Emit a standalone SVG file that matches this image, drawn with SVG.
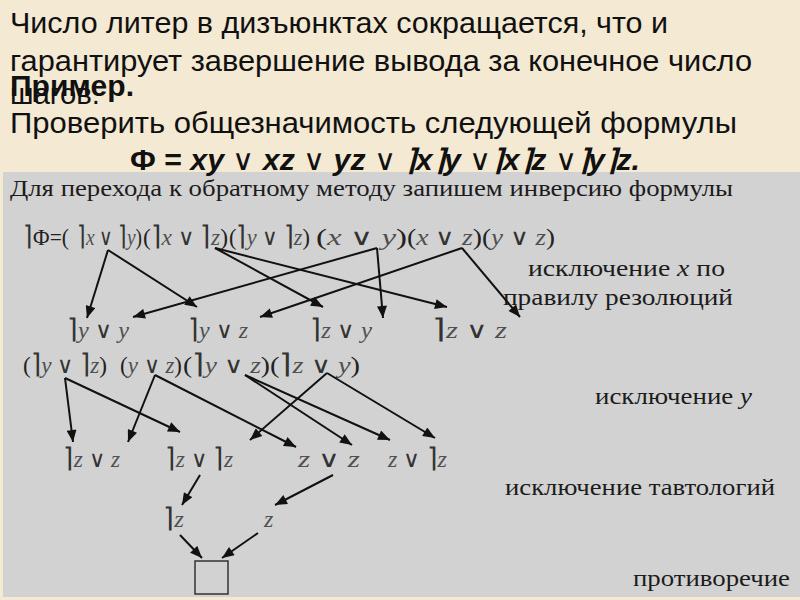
<svg xmlns="http://www.w3.org/2000/svg" width="800" height="600" viewBox="0 0 800 600">
<defs>
<style>
.t{font-family:"Liberation Sans","Arial",sans-serif;font-size:29px;fill:#111}
.b{font-weight:bold}
.g{font-family:"Liberation Serif","DejaVu Serif",serif;font-size:23px;fill:#1c1c1c}
.f{font-family:"Liberation Serif","DejaVu Serif",serif;font-size:24px;fill:#222}
.v{font-style:italic;fill:#505050}
.o{font-family:"DejaVu Sans","Noto Sans",sans-serif;font-weight:200;font-size:23px;fill:#333}
.n{font-family:"DejaVu Sans","Noto Sans",sans-serif;font-weight:200;font-size:27px;fill:#333}
.c{fill:none;stroke:#111;stroke-width:2}
</style>
<marker id="ah" viewBox="0 0 12 10" refX="12" refY="5" markerWidth="6.5" markerHeight="5" markerUnits="strokeWidth" orient="auto">
<path d="M0,0 L12,5 L0,10 z" fill="#111"/>
</marker>
</defs>
<rect x="0" y="0" width="800" height="600" fill="#f4e9d3"/>
<rect x="3" y="172" width="797" height="425" fill="#d2d2d2"/>

<g id="intro">
<text class="t" x="10" y="33" textLength="658" lengthAdjust="spacingAndGlyphs">Число литер в дизъюнктах сокращается, что и</text>
<text class="t" x="10" y="71" textLength="742" lengthAdjust="spacingAndGlyphs">гарантирует завершение вывода за конечное число</text>
<text class="t" x="10" y="104" textLength="90" lengthAdjust="spacingAndGlyphs">шагов.</text>
<text class="t b" x="10" y="96" textLength="124" lengthAdjust="spacingAndGlyphs">Пример.</text>
<text class="t" x="10" y="133" textLength="727" lengthAdjust="spacingAndGlyphs">Проверить общезначимость следующей формулы</text>
<text class="t b" x="130" y="170" font-size="25" textLength="510" lengthAdjust="spacingAndGlyphs">Ф = <tspan font-style="italic">xy</tspan> <tspan font-weight="normal">∨</tspan> <tspan font-style="italic">xz</tspan> <tspan font-weight="normal">∨</tspan> <tspan font-style="italic">yz</tspan> <tspan font-weight="normal">∨</tspan> <tspan font-style="italic">⌉x⌉y</tspan> <tspan font-weight="normal">∨</tspan><tspan font-style="italic">⌉x⌉z</tspan> <tspan font-weight="normal">∨</tspan><tspan font-style="italic">⌉y⌉z.</tspan></text>
</g>

<g id="header">
<text class="g" x="10" y="196" font-size="22" textLength="723" lengthAdjust="spacingAndGlyphs">Для перехода к обратному методу запишем инверсию формулы</text>
</g>

<g id="inverse-formula">
<text class="f" x="23" y="245" textLength="46" lengthAdjust="spacingAndGlyphs"><tspan class="n">⌉</tspan>Ф=(</text>
</g>
<g id="c1"><text class="f" x="77" y="245" textLength="65" lengthAdjust="spacingAndGlyphs"><tspan class="n">⌉</tspan><tspan class="v">x</tspan> <tspan class="o">∨</tspan> <tspan class="n">⌉</tspan><tspan class="v">y</tspan>)</text></g>
<g id="c2"><text class="f" x="143" y="245" textLength="85" lengthAdjust="spacingAndGlyphs">(<tspan class="n">⌉</tspan><tspan class="v">x</tspan> <tspan class="o">∨</tspan>  <tspan class="n">⌉</tspan><tspan class="v">z</tspan>)</text></g>
<g id="c3"><text class="f" x="229" y="245" textLength="81" lengthAdjust="spacingAndGlyphs">(<tspan class="n">⌉</tspan><tspan class="v">y</tspan> <tspan class="o">∨</tspan> <tspan class="n">⌉</tspan><tspan class="v">z</tspan>)</text></g>
<g id="c4"><text class="f" x="316" y="245" textLength="91" lengthAdjust="spacingAndGlyphs">(<tspan class="v">x</tspan> <tspan class="o">∨</tspan> <tspan class="v">y</tspan>)</text></g>
<g id="c5"><text class="f" x="407" y="245" textLength="75" lengthAdjust="spacingAndGlyphs">(<tspan class="v">x</tspan>  <tspan class="o">∨</tspan>  <tspan class="v">z</tspan>)</text></g>
<g id="c6"><text class="f" x="482" y="245" textLength="73" lengthAdjust="spacingAndGlyphs">(<tspan class="v">y</tspan> <tspan class="o">∨</tspan> <tspan class="v">z</tspan>)</text></g>

<g id="r1"><text class="f" x="67" y="338" textLength="62" lengthAdjust="spacingAndGlyphs"><tspan class="n">⌉</tspan><tspan class="v">y</tspan> <tspan class="o">∨</tspan> <tspan class="v">y</tspan></text></g>
<g id="r2"><text class="f" x="188" y="338" textLength="60" lengthAdjust="spacingAndGlyphs"><tspan class="n">⌉</tspan><tspan class="v">y</tspan> <tspan class="o">∨</tspan> <tspan class="v">z</tspan></text></g>
<g id="r3"><text class="f" x="310" y="338" textLength="62" lengthAdjust="spacingAndGlyphs"><tspan class="n">⌉</tspan><tspan class="v">z</tspan> <tspan class="o">∨</tspan> <tspan class="v">y</tspan></text></g>
<g id="r4"><text class="f" x="432" y="338" textLength="75" lengthAdjust="spacingAndGlyphs"><tspan class="n">⌉</tspan><tspan class="v">z</tspan>  <tspan class="o">∨</tspan>  <tspan class="v">z</tspan></text></g>

<g id="d1"><text class="f" x="23" y="373" textLength="84" lengthAdjust="spacingAndGlyphs">(<tspan class="n">⌉</tspan><tspan class="v">y</tspan> <tspan class="o">∨</tspan> <tspan class="n">⌉</tspan><tspan class="v">z</tspan>)</text></g>
<g id="d2"><text class="f" x="120" y="373" textLength="62" lengthAdjust="spacingAndGlyphs">(<tspan class="v">y</tspan> <tspan class="o">∨</tspan> <tspan class="v">z</tspan>)</text></g>
<g id="d3"><text class="f" x="183" y="373" textLength="87" lengthAdjust="spacingAndGlyphs">(<tspan class="n">⌉</tspan><tspan class="v">y</tspan> <tspan class="o">∨</tspan> <tspan class="v">z</tspan>)</text></g>
<g id="d4"><text class="f" x="270" y="373" textLength="90" lengthAdjust="spacingAndGlyphs">(<tspan class="n">⌉</tspan><tspan class="v">z</tspan> <tspan class="o">∨</tspan> <tspan class="v">y</tspan>)</text></g>

<g id="e1"><text class="f" x="63" y="467" textLength="57" lengthAdjust="spacingAndGlyphs"><tspan class="n">⌉</tspan><tspan class="v">z</tspan> <tspan class="o">∨</tspan>  <tspan class="v">z</tspan></text></g>
<g id="e2"><text class="f" x="165" y="467" textLength="68" lengthAdjust="spacingAndGlyphs"><tspan class="n">⌉</tspan><tspan class="v">z</tspan> <tspan class="o">∨</tspan> <tspan class="n">⌉</tspan><tspan class="v">z</tspan></text></g>
<g id="e3"><text class="f" x="298" y="467" textLength="62" lengthAdjust="spacingAndGlyphs"><tspan class="v">z</tspan>  <tspan class="o">∨</tspan>  <tspan class="v">z</tspan></text></g>
<g id="e4"><text class="f" x="388" y="467" textLength="59" lengthAdjust="spacingAndGlyphs"><tspan class="v">z</tspan> <tspan class="o">∨</tspan>  <tspan class="n">⌉</tspan><tspan class="v">z</tspan></text></g>

<g id="f1"><text class="f" x="163" y="527" textLength="21" lengthAdjust="spacingAndGlyphs"><tspan class="n">⌉</tspan><tspan class="v">z</tspan></text></g>
<g id="f2"><text class="f" x="264" y="527"><tspan class="v">z</tspan></text></g>

<g id="empty"><rect x="195" y="561" width="33" height="33" fill="none" stroke="#333" stroke-width="1.5"/></g>

<g id="labels">
<text class="g" x="528" y="276" font-size="24" textLength="197" lengthAdjust="spacingAndGlyphs">исключение  <tspan font-style="italic">x</tspan> по</text>
<text class="g" x="503" y="305" font-size="24" textLength="230" lengthAdjust="spacingAndGlyphs">правилу  резолюций</text>
<text class="g" x="595" y="404" font-size="24" textLength="157" lengthAdjust="spacingAndGlyphs">исключение <tspan font-style="italic">y</tspan></text>
<text class="g" x="505" y="495" font-size="24" textLength="270" lengthAdjust="spacingAndGlyphs">исключение тавтологий</text>
<text class="g" x="633" y="586" font-size="24" textLength="157" lengthAdjust="spacingAndGlyphs">противоречие</text>
</g>

<g id="connectors">
<line class="c" x1="108" y1="250" x2="87" y2="318" marker-end="url(#ah)"/>
<line class="c" x1="108" y1="250" x2="197" y2="307" marker-end="url(#ah)"/>
<line class="c" x1="215" y1="248" x2="323" y2="307" marker-end="url(#ah)"/>
<line class="c" x1="215" y1="248" x2="447" y2="307" marker-end="url(#ah)"/>
<line class="c" x1="377" y1="248" x2="133" y2="317" marker-end="url(#ah)"/>
<line class="c" x1="377" y1="248" x2="383" y2="318" marker-end="url(#ah)"/>
<line class="c" x1="462" y1="248" x2="260" y2="317" marker-end="url(#ah)"/>
<line class="c" x1="462" y1="248" x2="520" y2="317" marker-end="url(#ah)"/>
<line class="c" x1="65" y1="378" x2="73" y2="442" marker-end="url(#ah)"/>
<line class="c" x1="65" y1="378" x2="180" y2="432" marker-end="url(#ah)"/>
<line class="c" x1="155" y1="375" x2="128" y2="442" marker-end="url(#ah)"/>
<line class="c" x1="155" y1="375" x2="296" y2="447" marker-end="url(#ah)"/>
<line class="c" x1="245" y1="375" x2="352" y2="445" marker-end="url(#ah)"/>
<line class="c" x1="245" y1="375" x2="390" y2="440" marker-end="url(#ah)"/>
<line class="c" x1="327" y1="373" x2="250" y2="440" marker-end="url(#ah)"/>
<line class="c" x1="327" y1="373" x2="435" y2="438" marker-end="url(#ah)"/>
<line class="c" x1="200" y1="475" x2="182" y2="505" marker-end="url(#ah)"/>
<line class="c" x1="333" y1="475" x2="275" y2="505" marker-end="url(#ah)"/>
<line class="c" x1="180" y1="535" x2="202" y2="558" marker-end="url(#ah)"/>
<line class="c" x1="258" y1="533" x2="222" y2="558" marker-end="url(#ah)"/>
</g>
</svg>
